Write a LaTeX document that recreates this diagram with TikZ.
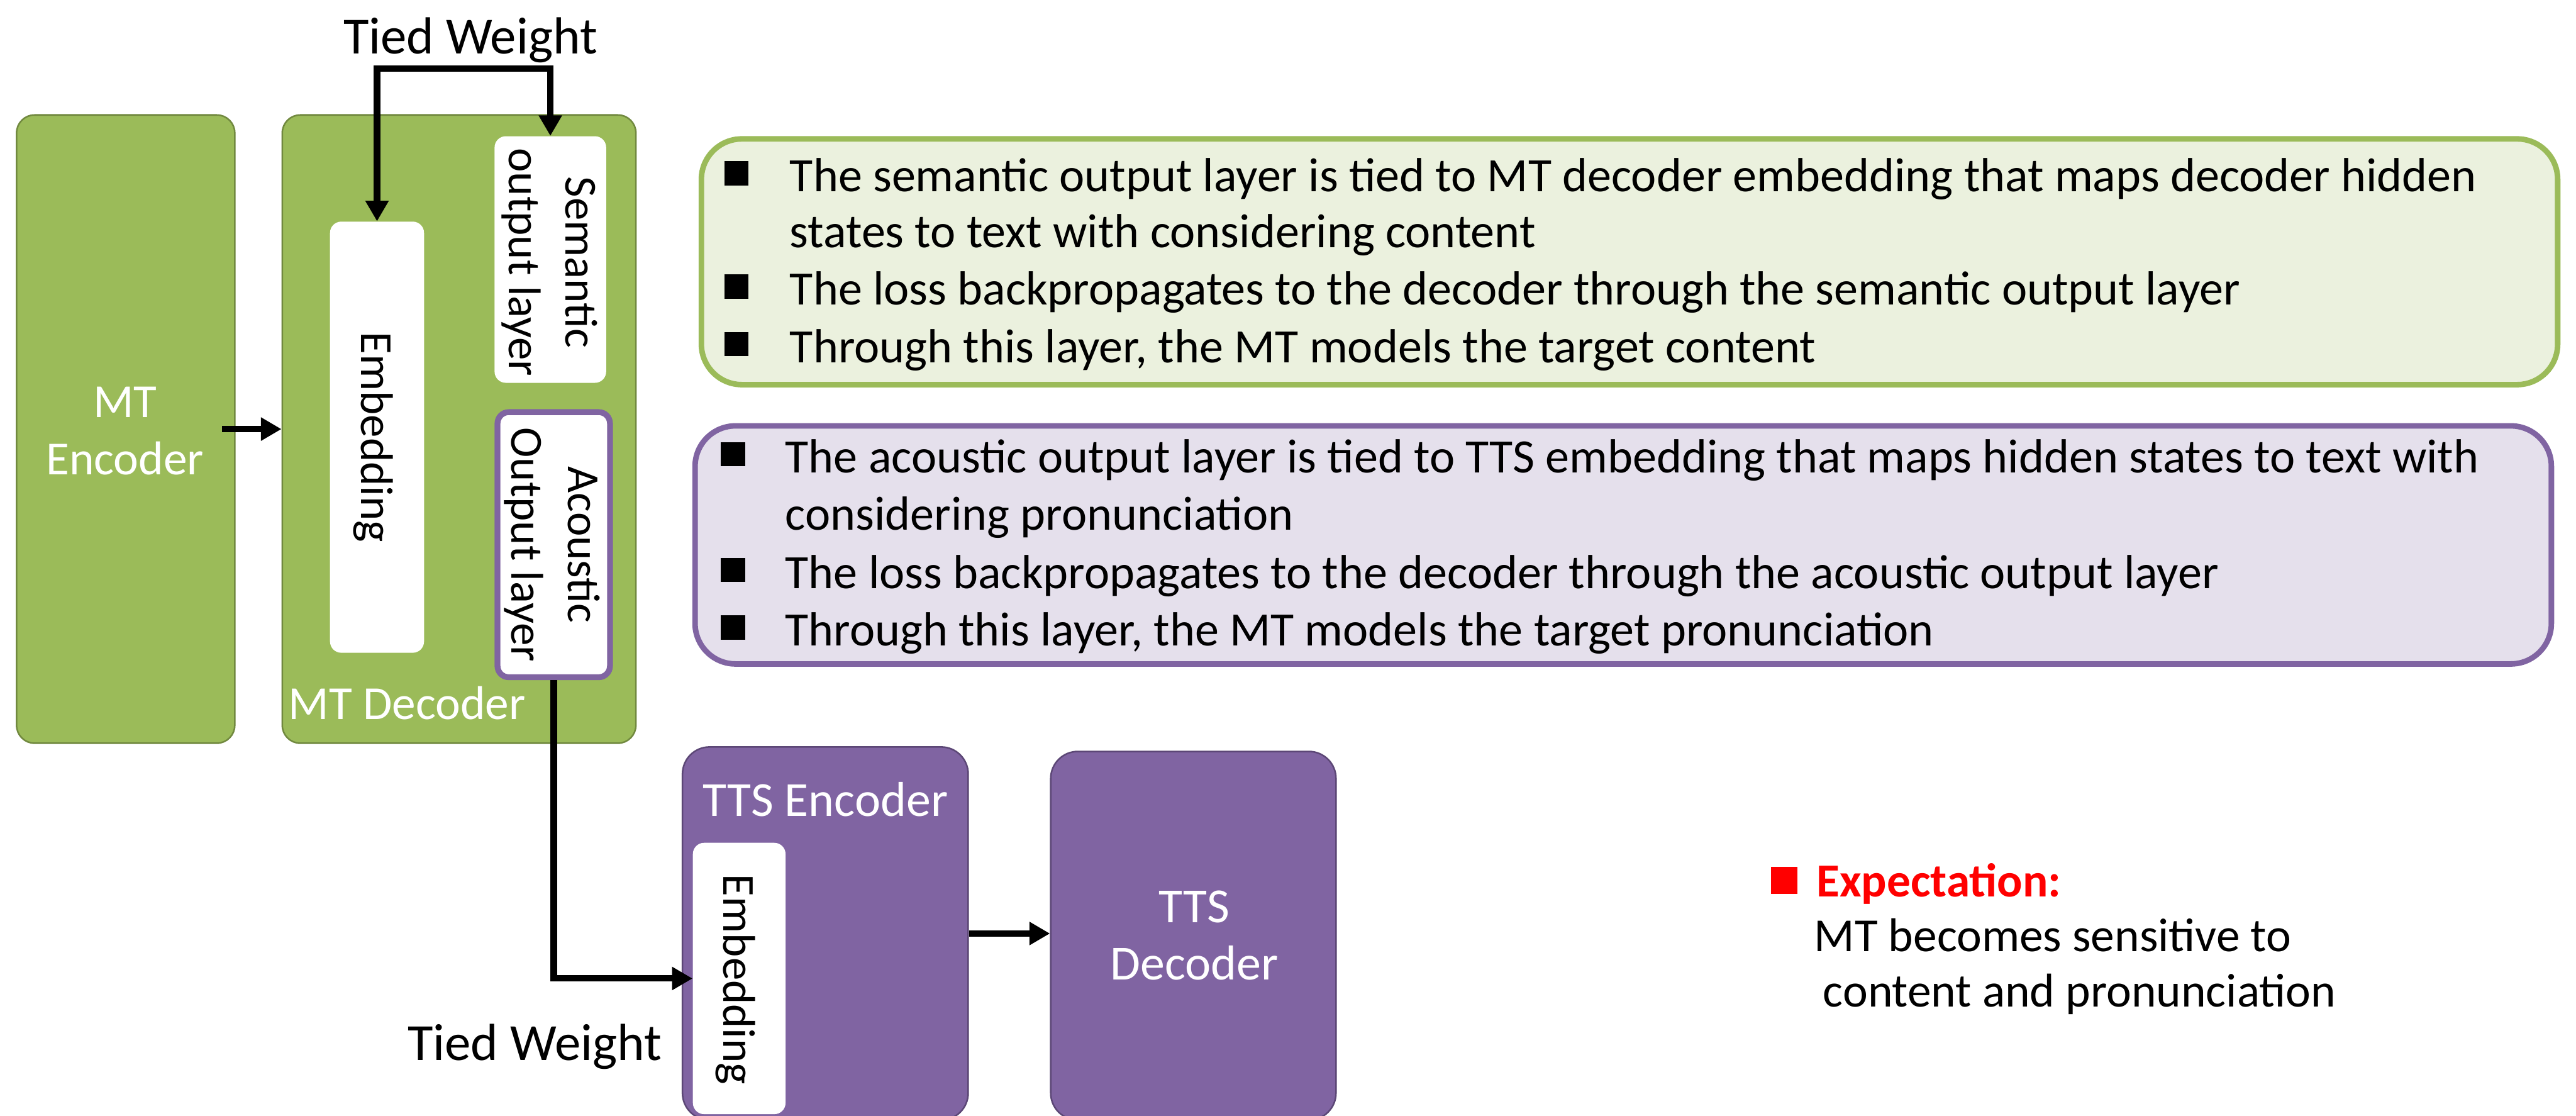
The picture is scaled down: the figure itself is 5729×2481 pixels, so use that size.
\documentclass[tikz,border=0pt]{standalone}
\usepackage{fontspec}
\setmainfont{Carlito}
\usetikzlibrary{arrows.meta}
\definecolor{mtgreen}{HTML}{9BBB59}
\definecolor{mtgreenline}{HTML}{71893F}
\definecolor{ttspurple}{HTML}{8064A2}
\definecolor{ttspurpleline}{HTML}{5C4776}
\definecolor{lightgreen}{HTML}{EBF1DE}
\definecolor{lightpurple}{HTML}{E5E0EC}
\definecolor{expred}{HTML}{FF0000}
\begin{document}
\begin{tikzpicture}[x=0.01cm,y=-0.01cm,
  gbox/.style={draw=mtgreenline, fill=mtgreen, line width=1pt, inner sep=0pt, rounded corners=0.4cm},
  pbox/.style={draw=ttspurpleline, fill=ttspurple, line width=1pt, inner sep=0pt, rounded corners=0.6cm},
  wbox/.style={fill=white, inner sep=0pt, rounded corners=0.25cm},
  lbl/.style={font=\fontsize{29}{36}\selectfont, inner sep=0pt, align=center},
  wlbl/.style={font=\fontsize{30}{36}\selectfont, inner sep=0pt, align=center, text=white},
  tlbl/.style={font=\fontsize{31}{36}\selectfont, inner sep=0pt, align=center, text=white},
  bodytxt/.style={font=\fontsize{30.3}{36}\selectfont, inner sep=0pt, anchor=base west},
  exptxtstyle/.style={font=\fontsize{30}{36}\selectfont, inner sep=0pt, anchor=base west},
  bul/.style={fill=black, inner sep=0pt, minimum size=0.54cm},
  conn/.style={line width=4pt, -{Triangle[length=13pt,width=14pt]}}
]
\useasboundingbox (0,0) rectangle (5729,2481);
\clip (0,0) rectangle (5729,2481);
\fill[white] (0,0) rectangle (5729,2481);

% MT encoder / decoder
\node[gbox, minimum width=4.85cm, minimum height=13.96cm] (mtenc) at (279.5,954) {};
\node[wlbl] (mtenctxt) at (278,958) {MT\\Encoder};
\node[gbox, minimum width=7.86cm, minimum height=13.96cm] (mtdec) at (1021,954) {};
\node[wlbl, anchor=base west] (mtdectxt) at (641,1599) {MT Decoder};

\node[wbox, minimum width=2.09cm, minimum height=9.58cm] (emb) at (838.5,972) {};
\node[lbl, rotate=-90] (embtxt) at (830,972) {Embedding};

\node[wbox, minimum width=2.48cm, minimum height=5.48cm] (sem) at (1224,577) {};
\node[lbl, rotate=-90] (semtxt) at (1222,583) {Semantic\\output layer};

\node[wbox, draw=ttspurple, line width=3.7pt, minimum width=2.50cm, minimum height=5.89cm] (aco) at (1231.5,1211) {};
\node[lbl, rotate=-90] (acotxt) at (1228,1211) {Acoustic\\Output layer};

% TTS encoder / decoder
\node[pbox, minimum width=6.35cm, minimum height=8.29cm] (ttsenc) at (1835.5,2075.5) {};
\node[tlbl, anchor=base west] (ttsenctxt) at (1563,1815) {TTS Encoder};
\node[wbox, minimum width=2.06cm, minimum height=6.03cm] (ttsemb) at (1644,2175.5) {};
\node[lbl, rotate=-90] (ttsembtxt) at (1636,2178) {Embedding};
\node[pbox, minimum width=6.34cm, minimum height=8.19cm] (ttsdec) at (2654,2080.5) {};
\node[tlbl] (ttsdectxt) at (2656,2080) {TTS\\Decoder};

% Tied weight labels
\node[font=\fontsize{33}{40}\selectfont, inner sep=0pt, anchor=base west] (tw1) at (763,119) {Tied Weight};
\node[font=\fontsize{33}{40}\selectfont, inner sep=0pt, anchor=base west] (tw2) at (906,2358) {Tied Weight};

% connectors
\coordinate (twtop) at (0,152);
\draw[line width=4pt, {Triangle[length=13pt,width=14pt]}-{Triangle[length=13pt,width=14pt]}]
  (emb.north) -- (emb.north |- twtop) -| (sem.north);
\draw[conn] ([xshift=-0.3cm]mtenc.east) -- (mtdec.west);
\draw[conn] (aco.south) |- (ttsemb.west);
\draw[conn] (ttsenc.east) -- (ttsdec.west |- ttsenc.east);

% green text box
\node[draw=mtgreen, fill=lightgreen, line width=3.5pt, rounded corners=0.9cm, inner sep=0pt,
      minimum width=41.26cm, minimum height=5.46cm] (gbox) at (3624,582) {};
\node[bul] (gb1) at (1638,385) {};
\node[bodytxt] (gt1) at (1756,426) {The semantic output layer is tied to MT decoder embedding that maps decoder hidden};
\node[bodytxt] (gt2) at (1756,551) {states to text with considering content};
\node[bul] (gb2) at (1638,637) {};
\node[bodytxt] (gt3) at (1756,678) {The loss backpropagates to the decoder through the semantic output layer};
\node[bul] (gb3) at (1638,765) {};
\node[bodytxt] (gt4) at (1756,806) {Through this layer, the MT models the target content};

% purple text box
\node[draw=ttspurple, fill=lightpurple, line width=3.5pt, rounded corners=0.9cm, inner sep=0pt,
      minimum width=41.26cm, minimum height=5.29cm] (pbox) at (3610,1211.5) {};
\node[bul] (pb1) at (1630,1010) {};
\node[bodytxt] (pt1) at (1746,1051) {The acoustic output layer is tied to TTS embedding that maps hidden states to text with};
\node[bodytxt] (pt2) at (1746,1179) {considering pronunciation};
\node[bul] (pb2) at (1630,1267) {};
\node[bodytxt] (pt3) at (1746,1308) {The loss backpropagates to the decoder through the acoustic output layer};
\node[bul] (pb3) at (1630,1395) {};
\node[bodytxt] (pt4) at (1746,1436) {Through this layer, the MT models the target pronunciation};

% expectation
\node[fill=expred, inner sep=0pt, minimum size=0.6cm] (expsq) at (3968,1957) {};
\node[exptxtstyle, font=\fontsize{30}{36}\selectfont\bfseries, text=expred] (exptxt) at (4039,1994) {Expectation:};
\node[exptxtstyle] (exp1) at (4034,2116) {MT becomes sensitive to};
\node[exptxtstyle] (exp2) at (4054,2239) {content and pronunciation};
\end{tikzpicture}
\end{document}
